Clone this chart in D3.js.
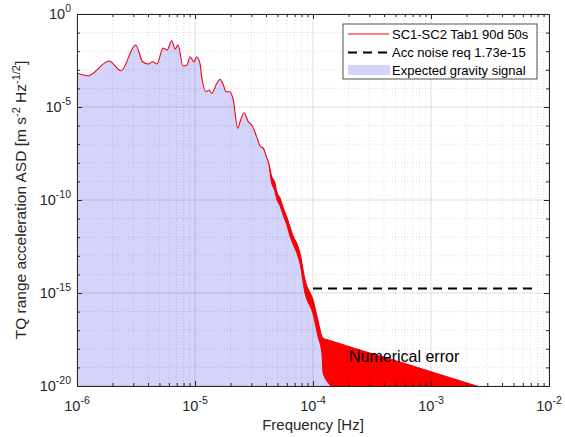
<!DOCTYPE html>
<html lang="en">
<head>
<meta charset="utf-8">
<title>TQ range acceleration ASD</title>
<script src="https://d3js.org/d3.v7.min.js"></script>
<style>
  body { margin: 0; background: #fff; }
  svg text { font-family: "Liberation Sans", Arial, sans-serif; fill: #262626; }
</style>
</head>
<body>
<svg id="chart" width="565" height="437"></svg>
<script>
// red curve: SC1-SC2 Tab1 90d 50s (upper / lower envelope, null = single line)
var freq = [1.0e-6, 1.24e-6, 1.87e-6, 2.36e-6, 3.14e-6, 3.6e-6, 4.0e-6, 4.38e-6, 4.77e-6, 5.36e-6,
            5.8e-6, 6.35e-6, 6.78e-6, 7.18e-6, 7.9e-6, 8.55e-6, 9.07e-6, 9.8e-6, 1.03e-5, 1.1e-5,
            1.14e-5, 1.24e-5, 1.32e-5, 1.39e-5, 1.53e-5, 1.63e-5, 1.74e-5, 1.83e-5, 1.98e-5, 2.11e-5,
            2.3e-5, 2.41e-5, 2.6e-5, 2.83e-5, 3.03e-5, 3.34e-5, 3.56e-5, 3.8e-5, 4.06e-5, 4.18e-5,
            4.47e-5, 4.76e-5, 4.92e-5, 5.25e-5, 5.6e-5, 5.98e-5, 6.38e-5, 6.81e-5, 7.28e-5, 7.76e-5,
            8.55e-5, 1.0e-4, 1.1e-4, 1.19e-4,
            1.22e-4, 1.35e-4, 1.6e-4, 2.2e-4, 5.46e-4, 2.44e-3, 3.0e-3];
var asdUpper = [6.7e-4, 4.8e-4, 2.97e-3, 8.9e-4, 2.15e-2, 2.7e-3, 2.05e-3, 2.7e-3, 2.05e-3, 1.49e-2,
                1.16e-2, 3.67e-2, 1.31e-2, 2.15e-2, 1.6e-3, 1.8e-3, 5.06e-3, 2.72e-3, 5.06e-3, 2.3e-3,
                4.25e-4, 6.65e-5, 8.2e-5, 5.45e-5, 1.88e-4, 3.08e-4, 1.52e-4, 6.65e-5, 6.65e-5, 2.38e-5,
                7.2e-7, 1.62e-6, 4.94e-6, 1.62e-6, 1.08e-6, 2.4e-7, 8.0e-8, 6.0e-8, 1.81e-8, 1.15e-8,
                1.79e-9, 8.2e-10, 2.8e-10, 1.28e-10, 3.7e-11, 1.26e-11, 3.65e-12, 1.06e-12, 4.7e-13, 1.36e-13,
                5.0e-15, 4.2e-16, 3.5e-17, 4.5e-18,
                3.6e-18, 3.0e-18, 2.1e-18, 1.1e-18, 1.95e-19, 1.0e-20, 6.6e-21];
var asdLower = [null, null, null, null, null, null, null, null, null, null,
                null, null, null, null, null, null, null, null, null, null,
                null, null, null, null, null, null, null, null, null, null,
                null, null, null, null, null, null, null, null, null, null,
                8.0e-10, 3.0e-10, 1.2e-10, 5.0e-11, 1.5e-11, 5.0e-12, 1.2e-12, 4.0e-13, 1.5e-13, 4.0e-14,
                1.0e-15, 8.0e-17, 5.0e-18, 6.0e-19,
                5.0e-20, 1.5e-20, 5.0e-21, 1.0e-22, 1.0e-23, 1.0e-23, 1.0e-23];

// blue patch: expected gravity signal tail below the red curve
var sigTailFreq = [1.3e-4, 1.45e-4, 1.6e-4];
var sigTailAsd = [1.5e-19, 2.0e-20, 1.0e-21];

var reqLevel = 1.73e-15;
var reqFreq = [1.0e-4, 7.2e-3];

var xTicks = [1e-6, 1e-5, 1e-4, 1e-3, 1e-2];
var xTickExp = ["-6", "-5", "-4", "-3", "-2"];
var yTicks = [1e-20, 1e-15, 1e-10, 1e-5, 1];
var yTickExp = ["-20", "-15", "-10", "-5", "0"];
var legendLabels = ["SC1-SC2 Tab1 90d 50s", "Acc noise req 1.73e-15", "Expected gravity signal"];

var L = 77, R = 549, T = 14, B = 386;
var svg = d3.select("#chart");
var x = d3.scaleLog().domain([1e-6, 1e-2]).range([L, R]);
var y = d3.scaleLog().domain([1e-20, 1]).range([B, T]);

svg.append("defs").append("clipPath").attr("id", "clip")
  .append("rect").attr("x", L).attr("y", T).attr("width", R - L).attr("height", B - T);

var data = freq.map(function(f, i) {
  return { f: f, hi: asdUpper[i], lo: asdLower[i] === null ? asdUpper[i] : asdLower[i] };
});

// blue signal area (follows red curve's lower edge then its tail)
var sig = data.filter(function(d) { return d.f < 1.2e-4; }).map(function(d) { return { f: d.f, a: d.lo }; });
sigTailFreq.forEach(function(f, i) { sig.push({ f: f, a: sigTailAsd[i] }); });

var plot = svg.append("g").attr("clip-path", "url(#clip)");
plot.append("path").datum(sig)
  .attr("fill", "#d4d4fa")
  .attr("d", d3.area().curve(d3.curveMonotoneX)
    .x(function(d) { return x(d.f); }).y0(B + 5).y1(function(d) { return y(d.a); }));

// grid
var grid = svg.append("g");
var minorX = [];
for (var e = -6; e < -2; e++) for (var k = 2; k <= 9; k++) minorX.push(k * Math.pow(10, e));
var minorY = [];
for (var e2 = -20; e2 < 0; e2++) if (e2 % 5 !== 0) minorY.push(Math.pow(10, e2));
grid.selectAll("line.mx").data(minorX).enter().append("line")
  .attr("x1", function(d) { return x(d); }).attr("x2", function(d) { return x(d); })
  .attr("y1", T).attr("y2", B)
  .attr("stroke", "#000").attr("stroke-opacity", 0.12).attr("stroke-dasharray", "1,2");
grid.selectAll("line.my").data(minorY).enter().append("line")
  .attr("y1", function(d) { return y(d); }).attr("y2", function(d) { return y(d); })
  .attr("x1", L).attr("x2", R)
  .attr("stroke", "#000").attr("stroke-opacity", 0.12).attr("stroke-dasharray", "1,2");
grid.selectAll("line.gx").data(xTicks).enter().append("line")
  .attr("x1", function(d) { return x(d); }).attr("x2", function(d) { return x(d); })
  .attr("y1", T).attr("y2", B).attr("stroke", "#000").attr("stroke-opacity", 0.13);
grid.selectAll("line.gy").data(yTicks).enter().append("line")
  .attr("y1", function(d) { return y(d); }).attr("y2", function(d) { return y(d); })
  .attr("x1", L).attr("x2", R).attr("stroke", "#000").attr("stroke-opacity", 0.13);

// red curve
plot.append("path").datum(data)
  .attr("fill", "#ff0000").attr("stroke", "#f00010").attr("stroke-width", 1.1)
  .attr("stroke-linejoin", "round")
  .attr("d", d3.area().curve(d3.curveMonotoneX).x(function(d) { return x(d.f); })
    .y0(function(d) { return y(d.lo); }).y1(function(d) { return y(d.hi); }));

// requirement line
plot.append("line")
  .attr("x1", x(reqFreq[0])).attr("x2", x(reqFreq[1]))
  .attr("y1", y(reqLevel)).attr("y2", y(reqLevel))
  .attr("stroke", "#000").attr("stroke-width", 2).attr("stroke-dasharray", "9,6");

svg.append("text").attr("x", 349).attr("y", 362)
  .style("font-size", "16px").style("fill", "#000").text("Numerical error");

// axes (ticks inside, box)
var axCol = "#262626";
function styleAxis(g) {
  g.select(".domain").attr("stroke", axCol);
  g.selectAll(".tick line").attr("stroke", axCol);
  g.selectAll(".tick text").remove();
}
var minorLen = 3, majorLen = 5;
[[d3.axisBottom, B], [d3.axisTop, T]].forEach(function(a) {
  svg.append("g").attr("transform", "translate(0," + a[1] + ")")
    .call(a[0](x).tickValues(xTicks).tickSize(-majorLen).tickSizeOuter(0)).call(styleAxis);
  svg.append("g").attr("transform", "translate(0," + a[1] + ")")
    .call(a[0](x).tickValues(minorX).tickSize(-minorLen).tickSizeOuter(0)).call(styleAxis);
});
[[d3.axisLeft, L], [d3.axisRight, R]].forEach(function(a) {
  svg.append("g").attr("transform", "translate(" + a[1] + ",0)")
    .call(a[0](y).tickValues(yTicks).tickSize(-majorLen).tickSizeOuter(0)).call(styleAxis);
  svg.append("g").attr("transform", "translate(" + a[1] + ",0)")
    .call(a[0](y).tickValues(minorY).tickSize(-minorLen).tickSizeOuter(0)).call(styleAxis);
});

// tick labels
xTicks.forEach(function(t, i) {
  var tx = svg.append("text").attr("x", x(t)).attr("y", 411).attr("text-anchor", "middle")
    .style("font-size", "14.5px");
  tx.append("tspan").text("10");
  tx.append("tspan").attr("dy", -7).style("font-size", "10.5px").text(xTickExp[i]);
});
yTicks.forEach(function(t, i) {
  var ty = svg.append("text").attr("x", 71).attr("y", y(t) + 5).attr("text-anchor", "end")
    .style("font-size", "14.5px");
  ty.append("tspan").text("10");
  ty.append("tspan").attr("dy", -7).style("font-size", "10.5px").text(yTickExp[i]);
});

// axis labels
svg.append("text").attr("x", (L + R) / 2).attr("y", 430).attr("text-anchor", "middle")
  .style("font-size", "15px").text("Frequency [Hz]");
var yl = svg.append("text").attr("transform", "translate(26," + ((T + B) / 2) + ") rotate(-90)")
  .attr("text-anchor", "middle").style("font-size", "15.5px");
yl.append("tspan").text("TQ range acceleration ASD [m s");
yl.append("tspan").attr("dy", -6).style("font-size", "11px").text("-2");
yl.append("tspan").attr("dy", 6).text(" Hz");
yl.append("tspan").attr("dy", -6).style("font-size", "11px").text("-1/2");
yl.append("tspan").attr("dy", 6).text("]");

// legend
var lg = svg.append("g").attr("transform", "translate(343,24)");
lg.append("rect").attr("width", 194).attr("height", 55)
  .attr("fill", "#fff").attr("stroke", axCol).attr("stroke-width", 0.8);
var rows = [10, 28.5, 46];
lg.append("line").attr("x1", 5).attr("x2", 46).attr("y1", rows[0]).attr("y2", rows[0])
  .attr("stroke", "#ff0000").attr("stroke-width", 1.2);
lg.append("line").attr("x1", 5).attr("x2", 46).attr("y1", rows[1]).attr("y2", rows[1])
  .attr("stroke", "#000").attr("stroke-width", 2).attr("stroke-dasharray", "9,6");
lg.append("rect").attr("x", 5).attr("y", rows[2] - 5).attr("width", 42).attr("height", 10)
  .attr("fill", "#d4d4fa");
legendLabels.forEach(function(s, i) {
  lg.append("text").attr("x", 49).attr("y", rows[i] + 4.5).style("font-size", "13px")
    .style("fill", "#000").text(s);
});
</script>
</body>
</html>
